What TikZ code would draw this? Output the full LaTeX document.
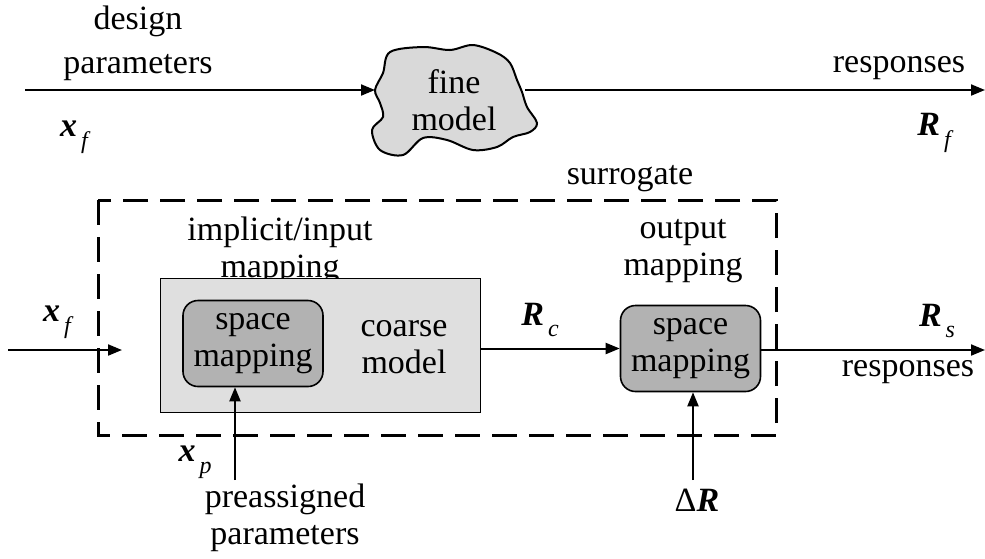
\documentclass[tikz,border=0pt]{standalone}
\usepackage{fontspec}
\setmainfont{Liberation Serif}
\usetikzlibrary{arrows.meta}

\newcommand{\vsym}[2]{{\bfseries\itshape #1}\raisebox{-0.35em}{\fontsize{12}{12}\selectfont\itshape\,#2}}

\tikzset{
  lbl/.style={align=center, inner sep=0pt, font=\fontsize{17}{18.5}\selectfont},
  sig/.style={line width=1pt, -{Triangle[length=7pt,width=5.5pt]}},
  smbox/.style={draw, line width=0.8pt, fill=gray!60, rounded corners=7.5pt,
    minimum width=70pt, minimum height=43pt, inner sep=0pt, align=center,
    font=\fontsize{17}{18.5}\selectfont},
}

\begin{document}
\begin{tikzpicture}[x=0.5pt, y=-0.5pt]
\useasboundingbox (0, 0) rectangle (985, 558);
%fine model branch
\draw[line width=1pt, fill=gray!30] plot[smooth cycle, tension=0.55] coordinates {
  (390, 52) (423, 47) (450, 50) (473, 45) (497, 53) (510, 63) (517, 80)
  (522, 92) (527, 107) (537, 123) (530, 132) (513, 137) (497, 147)
  (473, 150) (447, 140) (423, 138) (403, 155) (380, 150) (372, 130)
  (383, 117) (380, 103) (375, 90) (383, 73)};
\node[lbl] (fine) at (454, 100) {fine\\model};
\coordinate (finein) at (375, 90);
\coordinate (fineout) at (525, 90);
\coordinate (dpin) at (25, 90);
\coordinate (rfout) at (985, 90);
\draw[sig] (dpin) -- (finein);
\draw[sig] (fineout) -- (rfout);
\node[lbl] (dp) at (138, 43) {design\\[3.5pt]parameters};
\node[lbl] (xftop) at (74, 137) {\vsym{x}{f}};
\node[lbl] (resptop) at (899, 68) {responses};
\node[lbl] (rf) at (934, 133) {\vsym{R}{f}};
%surrogate
\draw[line width=1.5pt, dash pattern=on 12.5pt off 6pt] (98, 200) rectangle (776, 435);
\node[lbl] (surr) at (630, 179) {surrogate};
\node[lbl] (inmap) at (280, 251) {implicit/input\\mapping};
\node[lbl] (outmap) at (683, 251) {output\\mapping};
\node[draw, line width=0.5pt, fill=gray!25, minimum width=160pt, minimum height=67pt] (coarse) at (320, 345) {};
\node[smbox] (sml) at (253, 343.5) {space\\mapping};
\node[lbl] (cm) at (404, 347) {coarse\\model};
\node[smbox] (smr) at (690.5, 348.5) {space\\mapping};
%signals
\coordinate (xfin) at (8, 350);
\coordinate (xfend) at (122, 350);
\draw[sig] (xfin) -- (xfend);
\node[lbl] (xf) at (57, 322) {\vsym{x}{f}};
\draw[sig] (coarse.east |- smr.west) -- (smr.west);
\node[lbl] (rc) at (540, 320) {\vsym{R}{c}};
\coordinate (rsout) at (985, 350);
\draw[sig] (smr.east |- rsout) -- (rsout);
\node[lbl] (rs) at (937, 321) {\vsym{R}{s}};
\node[lbl] (respbot) at (908, 372) {responses};
\coordinate (drin) at (693, 480);
\draw[sig] (drin) -- (drin |- smr.south);
\node[lbl] (dr) at (697, 500) {Δ\textbf{\textit{R}}};
\coordinate (xpin) at (235, 480);
\draw[sig] (xpin) -- (xpin |- sml.south);
\node[lbl] (xp) at (195, 462) {\vsym{x}{p}};
\node[lbl] (pp) at (285, 518) {preassigned\\parameters};
\end{tikzpicture}
\end{document}
